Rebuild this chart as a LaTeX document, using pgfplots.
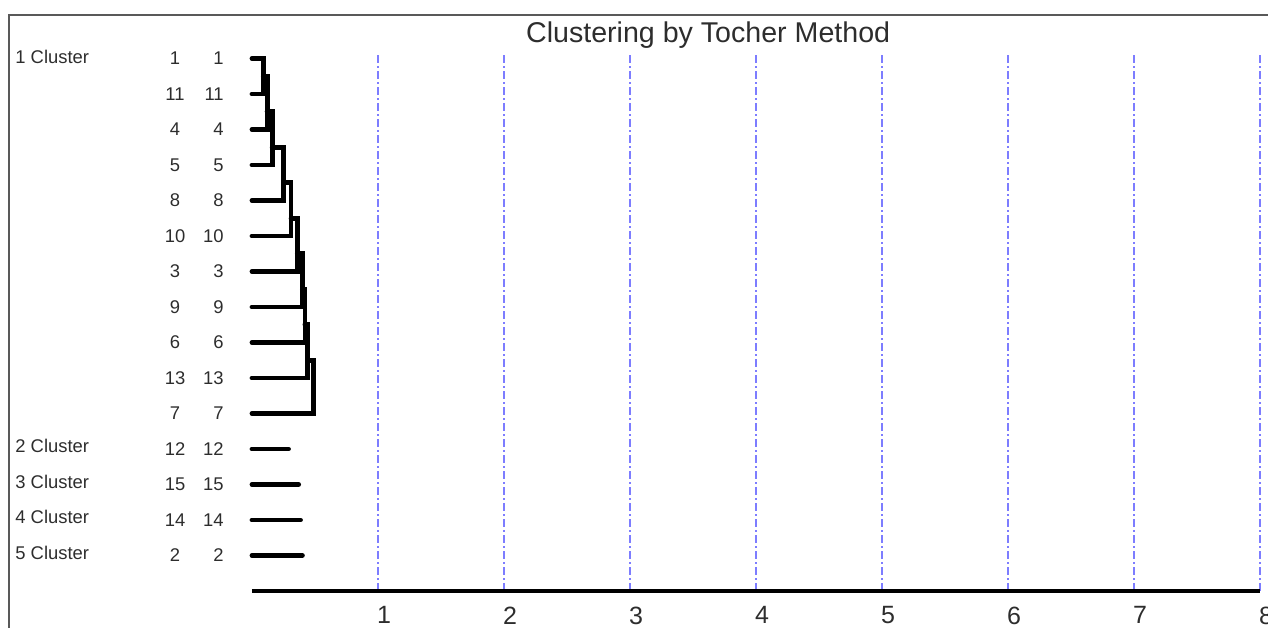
\documentclass[border=0pt]{standalone}
\usepackage{pgfplots}
\pgfplotsset{compat=1.18}
\usepackage{fontspec}
\setmainfont{Liberation Sans}
\definecolor{gridblue}{RGB}{125,125,255}
\definecolor{txt}{RGB}{45,45,45}
\tikzset{lab/.style={font=\fontsize{9.2}{10}\selectfont, text=txt, inner sep=0pt}}
\begin{document}
\begin{tikzpicture}
\begin{axis}[
 scale only axis, width=504pt, height=268pt,
 xmin=0, xmax=8, ymin=0, ymax=15.1,
 axis line style={draw=none},
 xtick={1,...,8}, ytick=\empty,
 major tick length=0pt,
 xmajorgrids,
 grid style={gridblue, line width=0.7pt, dash pattern=on 4pt off 1.5pt on 1pt off 1.5pt},
 xticklabel style={font=\fontsize{12.5}{14}\selectfont, text=txt, yshift=-4.3pt, xshift=3pt},
 /pgf/number format/assume math mode=true,
 clip=false,
 dend/.style={black, solid, no marks, line width=2.4pt, line cap=round, line join=miter},
]
% dendrogram of cluster 1
\addplot[dend] coordinates {(0,15) (0.09,15) (0.09,14) (0,14)};
\addplot[dend] coordinates {(0.09,14.5) (0.12,14.5) (0.12,13) (0,13)};
\addplot[dend] coordinates {(0.12,13.5) (0.16,13.5) (0.16,12) (0,12)};
\addplot[dend] coordinates {(0.16,12.5) (0.25,12.5) (0.25,11) (0,11)};
\addplot[dend] coordinates {(0.25,11.5) (0.31,11.5) (0.31,10) (0,10)};
\addplot[dend] coordinates {(0.31,10.5) (0.36,10.5) (0.36,9) (0,9)};
\addplot[dend] coordinates {(0.36,9.5) (0.40,9.5) (0.40,8) (0,8)};
\addplot[dend] coordinates {(0.40,8.5) (0.42,8.5) (0.42,7) (0,7)};
\addplot[dend] coordinates {(0.42,7.5) (0.44,7.5) (0.44,6) (0,6)};
\addplot[dend] coordinates {(0.44,6.5) (0.49,6.5) (0.49,5) (0,5)};
% single clusters
\addplot[dend] coordinates {(0,4) (0.29,4)};
\addplot[dend] coordinates {(0,3) (0.37,3)};
\addplot[dend] coordinates {(0,2) (0.385,2)};
\addplot[dend] coordinates {(0,1) (0.40,1)};
% baseline
\addplot[dend, line width=2.2pt, line cap=butt] coordinates {(0,0) (8,0)};

\coordinate (BL) at (axis cs:-2,-1.042);
\coordinate (TR) at (axis cs:8.0635,16.648);

\draw[gray!70!black, line width=0.8pt] (axis cs:-1.9286,-2) -- (axis cs:-1.9286,16.225) -- (axis cs:8.6,16.225);

\node[font=\fontsize{14.3}{16}\selectfont, text=txt] at (axis cs:3.62,15.66) {Clustering by Tocher Method};

\foreach \n/\y in {1/15,11/14,4/13,5/12,8/11,10/10,3/9,9/8,6/7,13/6,7/5,12/4,15/3,14/2,2/1}{
  \edef\tmp{\noexpand\node[lab] at (axis cs:-0.611,\y) {\n};
  \noexpand\node[lab, anchor=east] at (axis cs:-0.222,\y) {\n};}
  \tmp
}
\foreach \c/\y in {1/15.05,2/4.08,3/3.08,4/2.08,5/1.08}{
  \edef\tmp{\noexpand\node[lab, anchor=west] at (axis cs:-1.881,\y) {\c\noexpand\ Cluster};}
  \tmp
}
\end{axis}
\pgfresetboundingbox
\useasboundingbox (BL) rectangle (TR);
\end{tikzpicture}
\end{document}
